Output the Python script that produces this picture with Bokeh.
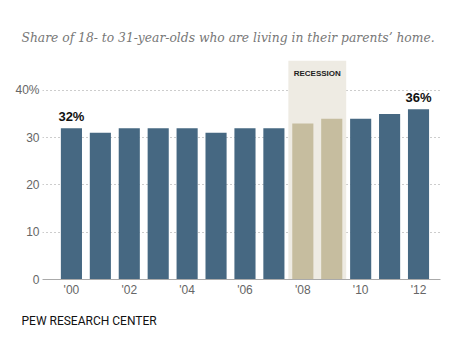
from bokeh.plotting import figure
from bokeh.models import ColumnDataSource, FixedTicker, BoxAnnotation, Title
from bokeh.core.properties import value
from bokeh.embed import file_html
from bokeh.resources import INLINE

years = [2000, 2001, 2002, 2003, 2004, 2005, 2006, 2007, 2008, 2009, 2010, 2011, 2012]
share = [32, 31, 32, 32, 32, 31, 32, 32, 33, 34, 34, 35, 36]
recession_years = [2008, 2009]
labelled_years = [2000, 2012]
x_ticks = [2000, 2002, 2004, 2006, 2008, 2010, 2012]
x_tick_labels = ["'00", "'02", "'04", "'06", "'08", "'10", "'12"]
y_ticks = [0, 10, 20, 30, 40]
y_tick_labels = ["0", "10", "20", "30", "40%"]
title_text = "Share of 18- to 31-year-olds who are living in their parents\u2019 home."
source_text = "PEW RESEARCH CENTER"
recession_text = "RECESSION"

BLUE = "#466882"
BEIGE = "#c6bd9f"
SHADE = "#eeebe3"

colors = [BEIGE if y in recession_years else BLUE for y in years]
src = ColumnDataSource(dict(x=years, top=share, color=colors))

p = figure(width=452, height=348, output_backend="svg", toolbar_location=None,
           x_range=(1999.0, 2012.76), y_range=(0, 46.3),
           min_border_left=42, min_border_right=12, min_border_top=60, min_border_bottom=69)
p.outline_line_color = None
p.background_fill_color = "white"

rec_lo = min(recession_years) - 0.5
rec_hi = max(recession_years) + 0.5
p.add_layout(BoxAnnotation(left=rec_lo, right=rec_hi, fill_color=SHADE, fill_alpha=1.0,
                           line_color=None, level="underlay"))

p.vbar(x="x", top="top", width=0.73, bottom=0, fill_color="color", line_color=None, source=src)

lab_x = [y for y in years if y in labelled_years]
lab_v = [share[years.index(y)] for y in lab_x]
p.text(x=lab_x, y=lab_v, text=[f"{v}%" for v in lab_v], text_align="center",
       text_baseline="bottom", y_offset=-4, text_font=value("Liberation Sans"),
       text_font_size="13px", text_font_style="bold", text_color="#111111")

p.text(x=[(rec_lo + rec_hi) / 2], y=[46.3], text=[recession_text], text_align="center",
       text_baseline="middle", y_offset=13, text_font=value("Liberation Sans"),
       text_font_size="8px", text_font_style="bold", text_color="#222222")

p.xgrid.grid_line_color = None
p.ygrid.ticker = FixedTicker(ticks=y_ticks[1:])
p.ygrid.grid_line_color = "#9a9a9a"
p.ygrid.grid_line_dash = "1 3"
p.ygrid.grid_line_width = 1

p.xaxis.ticker = FixedTicker(ticks=x_ticks)
p.xaxis.major_label_overrides = dict(zip(x_ticks, x_tick_labels))
p.xaxis.axis_line_color = "#aaaaaa"
p.xaxis.major_tick_line_color = None
p.xaxis.major_tick_out = 0
p.xaxis.major_tick_in = 0
p.xaxis.minor_tick_line_color = None
p.xaxis.major_label_text_font = "Liberation Sans"
p.xaxis.major_label_text_font_size = "12px"
p.xaxis.major_label_text_color = "#666666"
p.xaxis.major_label_standoff = 3

p.yaxis.ticker = FixedTicker(ticks=y_ticks)
p.yaxis.major_label_overrides = dict(zip(y_ticks, y_tick_labels))
p.yaxis.axis_line_color = None
p.yaxis.major_tick_line_color = None
p.yaxis.major_tick_out = 0
p.yaxis.major_tick_in = 0
p.yaxis.minor_tick_line_color = None
p.yaxis.major_label_text_font = "Liberation Sans"
p.yaxis.major_label_text_font_size = "12px"
p.yaxis.major_label_text_color = "#666666"
p.yaxis.major_label_standoff = 3

p.title.text = title_text
p.title.align = "left"
p.title.offset = -21
p.title.text_font = "DejaVu Serif"
p.title.text_font_style = "italic"
p.title.text_font_size = "12.3px"
p.title.text_color = "#777777"
p.title.standoff = 32

p.add_layout(Title(text=source_text, align="left", offset=-21, text_font="Roboto",
                   text_font_size="12px", text_font_style="normal", text_color="#111111",
                   standoff=25), "below")

open("out.html", "w").write(file_html(p, INLINE))
